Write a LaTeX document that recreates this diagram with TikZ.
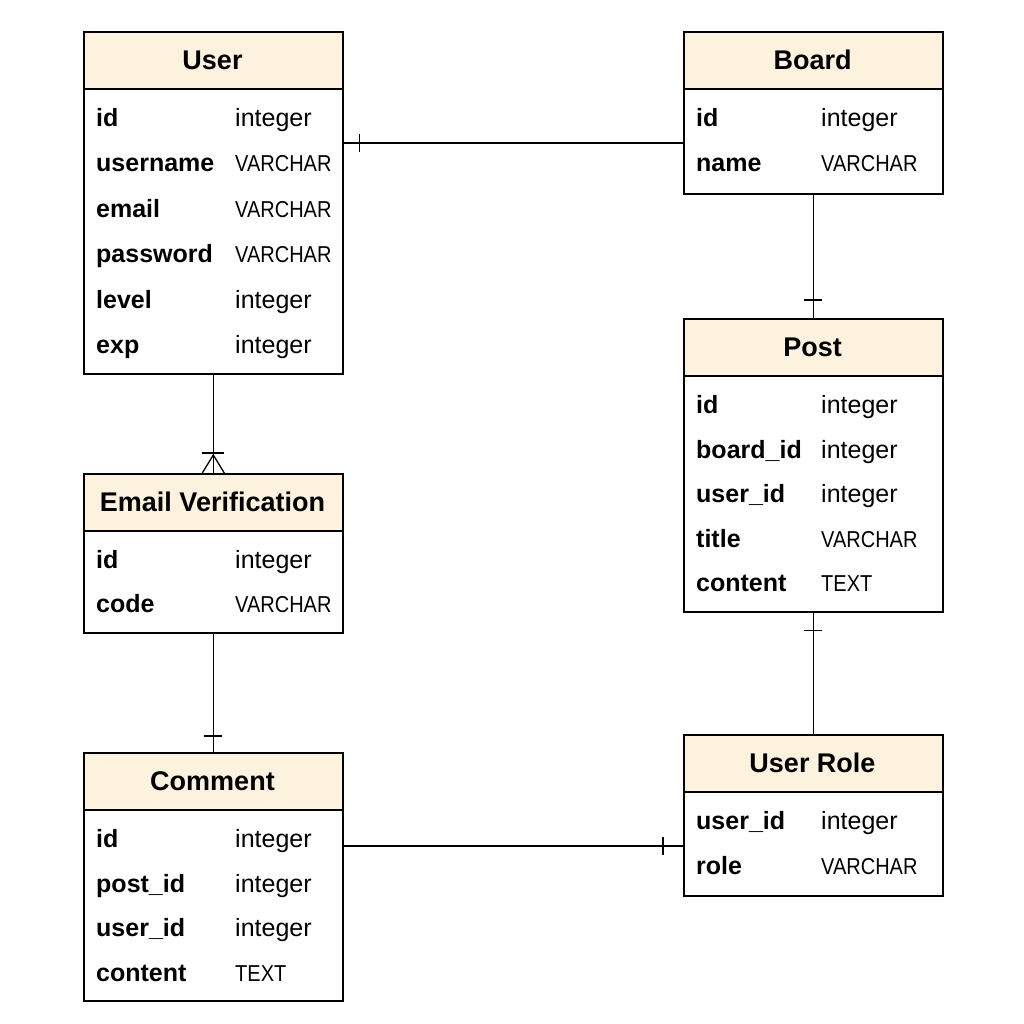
\documentclass[tikz,border=0pt]{standalone}
\usepackage{fontspec}
\setmainfont{Liberation Sans}
\usetikzlibrary{calc}
\definecolor{hdr}{HTML}{FCF2DD}
\newcommand{\cond}[1]{\scalebox{0.8}[0.92]{#1}}
\tikzset{
  tblbox/.style={draw, line width=1.6pt, minimum width=259pt, inner sep=0pt},
  tblline/.style={line width=1.6pt},
  ttl/.style={anchor=base, inner sep=0pt, font=\fontsize{27}{30}\selectfont\bfseries},
  fname/.style={anchor=base west, inner sep=0pt, font=\fontsize{25}{28}\selectfont\bfseries},
  ftype/.style={anchor=base west, inner sep=0pt, font=\fontsize{25}{28}\selectfont},
  conn/.style={line width=1.3pt},
}
% #1 name, #2 left, #3 top, #4 bottom, #5 type offset, #6 row spacing, #7 title, #8 rows
\newcommand{\erbox}[8]{%
  \pgfmathsetmacro{\erh}{#4-#3}%
  \fill[hdr] (#2,#3) rectangle (#2+259,#3+58);
  \node[tblbox, minimum height=\erh pt, anchor=north west] (#1) at (#2,#3) {};
  \draw[tblline] (#2,#3+58) -- (#2+259,#3+58);
  \node[ttl] at (#2+129.5,#3+38.5) {#7};
  \foreach \fn/\ft [count=\i from 0] in {#8} {
    \node[fname] at (#2+13,#3+95.5+#6*\i) {\fn};
    \node[ftype] at (#2+#5,#3+95.5+#6*\i) {\ft};
  }%
}
\begin{document}
\begin{tikzpicture}[x=1pt,y=-1pt]
\fill[white] (0,0) rectangle (1024,1024);
\useasboundingbox (0,0) rectangle (1024,1024);

\erbox{user}{83}{31}{373}{152}{45.4}{User}{id/integer, username/\cond{VARCHAR}, email/\cond{VARCHAR}, password/\cond{VARCHAR}, level/integer, exp/integer}
\erbox{board}{683}{31}{193}{138}{45}{Board}{id/integer, name/\cond{VARCHAR}}
\erbox{post}{683}{318}{611}{138}{44.5}{Post}{id/integer, board\_id/integer, user\_id/integer, title/\cond{VARCHAR}, content/\cond{TEXT}}
\erbox{emailv}{83}{473}{632}{152}{44}{Email Verification}{id/integer, code/\cond{VARCHAR}}
\erbox{comment}{83}{752}{1000}{152}{44.7}{Comment}{id/integer, post\_id/integer, user\_id/integer, content/\cond{TEXT}}
\erbox{userrole}{683}{734}{895}{138}{45}{User Role}{user\_id/integer, role/\cond{VARCHAR}}

% User -- Board
\draw[conn] ($(user.north east)+(0,112)$) -- ($(board.north west)+(0,112)$);
\draw[conn] ($(user.north east)+(16,103)$) -- ($(user.north east)+(16,121)$);
% Board -- Post
\draw[conn] (board.south) -- (post.north);
\draw[conn] ($(post.north)+(-9,-18)$) -- ($(post.north)+(9,-18)$);
% User -- Email Verification (crow's foot)
\draw[conn] (user.south) -- (emailv.north);
\draw[conn] ($(emailv.north)+(-11,-20)$) -- ($(emailv.north)+(11,-20)$);
\draw[conn] ($(emailv.north)+(-11,0)$) -- ($(emailv.north)+(0,-18)$) -- ($(emailv.north)+(11,0)$);
% Email Verification -- Comment
\draw[conn] (emailv.south) -- (comment.north);
\draw[conn] ($(comment.north)+(-9,-16)$) -- ($(comment.north)+(9,-16)$);
% Post -- User Role
\draw[conn] (post.south) -- (userrole.north);
\draw[conn] ($(post.south)+(-9,18)$) -- ($(post.south)+(9,18)$);
% Comment -- User Role
\draw[conn] ($(comment.north east)+(0,94)$) -- ($(userrole.north west)+(0,112)$);
\draw[conn] ($(userrole.north west)+(-20,103)$) -- ($(userrole.north west)+(-20,121)$);
\end{tikzpicture}
\end{document}
